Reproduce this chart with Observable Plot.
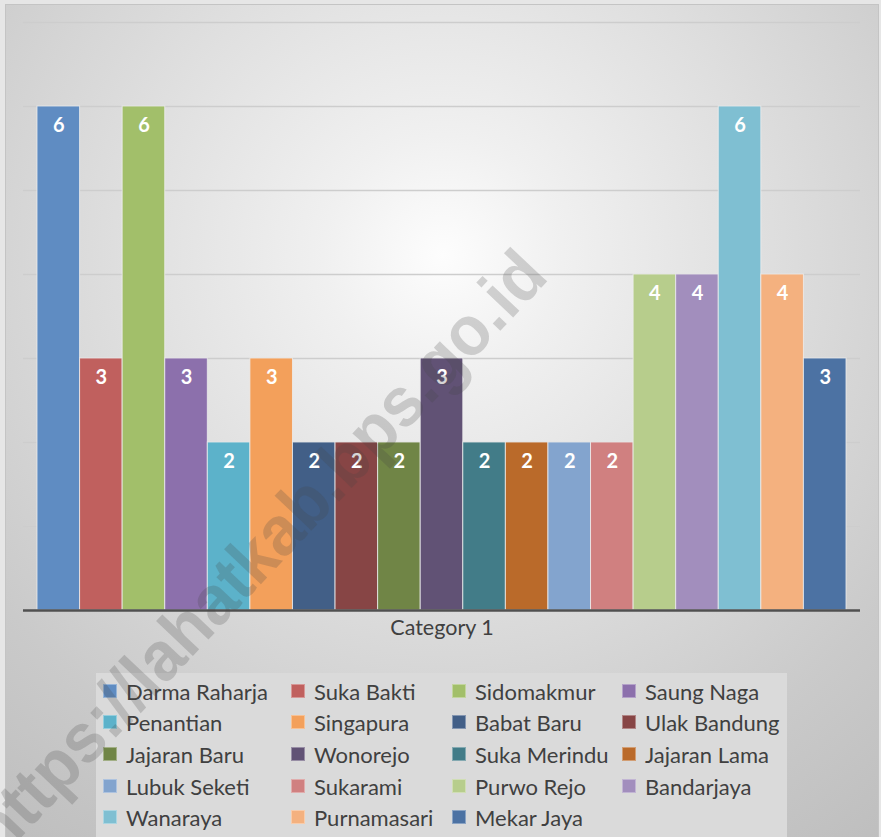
<!DOCTYPE html>
<html>
<head>
<meta charset="utf-8">
<script src="https://cdn.jsdelivr.net/npm/d3@7"></script>
<script src="https://cdn.jsdelivr.net/npm/@observablehq/plot@0.6"></script>
<style>
  html, body { margin: 0; padding: 0; background: #e6e6e6; }
  #wrap { position: relative; width: 881px; height: 837px; overflow: hidden; font-family: Lato, "Open Sans", sans-serif; }
  #frame { position: absolute; left: 5px; top: 4px; width: 872px; height: 840px; border: 1px solid #c4c4c4;
    background: radial-gradient(circle at 437px 250px, #fdfdfd 0px, #f0f0f0 120px, #dedede 330px, #cacaca 560px, #bcbcbc 760px); }
  #chart { position: absolute; left: 0; top: 0; }
  #legend { position: absolute; left: 96px; top: 673px; width: 691px; height: 170px; background: #dadada; }
  .li { position: absolute; height: 26px; display: flex; align-items: center; font-size: 22px; color: #404040; white-space: nowrap; }
  .sw { width: 14px; height: 14px; margin-right: 9px; box-sizing: border-box; border: 1px solid rgba(255,255,255,0.35); }
  #wm { position: absolute; left: 0; top: 0; pointer-events: none; }
</style>
</head>
<body>
<div id="wrap">
  <div id="frame"></div>
  <div id="chart"></div>
  <div id="legend"></div>
  <svg id="wm" width="881" height="837"></svg>
</div>
<script>
const categories = ["Category 1"];
const seriesNames = ["Darma Raharja","Suka Bakti","Sidomakmur","Saung Naga","Penantian","Singapura","Babat Baru","Ulak Bandung","Jajaran Baru","Wonorejo","Suka Merindu","Jajaran Lama","Lubuk Seketi","Sukarami","Purwo Rejo","Bandarjaya","Wanaraya","Purnamasari","Mekar Jaya"];
const seriesValues = [6,3,6,3,2,3,2,2,2,3,2,2,2,2,4,4,6,4,3];
const seriesColors = ["#5f8cc2","#c0605e","#a2bf6a","#8c70ac","#5cb2ca","#f3a05b","#425f87","#874545","#708546","#615275","#427c88","#ba6a2a","#83a4ce","#d08080","#b7cd8c","#a28ebd","#7fbfd2","#f4b17f","#4c72a3"];
const yTicks = [0,1,2,3,4,5,6,7];
const watermark = "https://lahatkab.bps.go.id";

const data = seriesNames.map((s, i) => ({series: s, value: seriesValues[i], category: categories[0]}));

const chart = Plot.plot({
  width: 881,
  height: 837,
  marginLeft: 23,
  marginRight: 21,
  marginTop: 22,
  marginBottom: 227,
  style: {background: "transparent", overflow: "visible"},
  x: {domain: seriesNames, padding: 0, round: false, insetLeft: 14, insetRight: 14, axis: null},
  y: {domain: [0, 7], axis: null},
  color: {domain: seriesNames, range: seriesColors},
  marks: [
    Plot.ruleY(yTicks.slice(1), {stroke: "#cdcdcd", strokeWidth: 1.5}),
    Plot.barY(data, {x: "series", y: "value", fill: "series", stroke: "#eeeeee", strokeOpacity: 0.8, strokeWidth: 1}),
    Plot.ruleY([0], {stroke: "#505050", strokeWidth: 2.5}),
    Plot.text(data, {x: "series", y: "value", text: d => String(d.value), dy: 19, fill: "white", fontSize: 20, fontWeight: "bold", fontFamily: "Lato, sans-serif"}),
    Plot.text(categories, {frameAnchor: "bottom", text: d => d, dy: 24, fill: "#404040", fontSize: 21.5, fontFamily: "Lato, sans-serif"})
  ]
});
document.getElementById("chart").appendChild(chart);

// Legend
const colX = [7, 195, 356, 526];
const rowY = [18, 49, 81, 113, 144];
const legend = document.getElementById("legend");
seriesNames.forEach((s, i) => {
  const el = document.createElement("div");
  el.className = "li";
  el.style.left = colX[i % 4] + "px";
  el.style.top = (rowY[Math.floor(i / 4)] - 13) + "px";
  const sw = document.createElement("span");
  sw.className = "sw";
  sw.style.background = seriesColors[i];
  const t = document.createElement("span");
  t.textContent = s;
  el.appendChild(sw);
  el.appendChild(t);
  legend.appendChild(el);
});

// Watermark
d3.select("#wm").append("text")
  .attr("transform", "translate(262,556) rotate(-46.6)")
  .attr("text-anchor", "middle")
  .attr("dominant-baseline", "middle")
  .attr("font-family", "'Liberation Sans', Arial, sans-serif")
  .attr("font-weight", "bold")
  .attr("font-size", 70)
  .attr("textLength", 800)
  .attr("lengthAdjust", "spacingAndGlyphs")
  .attr("fill", "rgba(70,70,70,0.22)")
  .text(watermark);
</script>
</body>
</html>
